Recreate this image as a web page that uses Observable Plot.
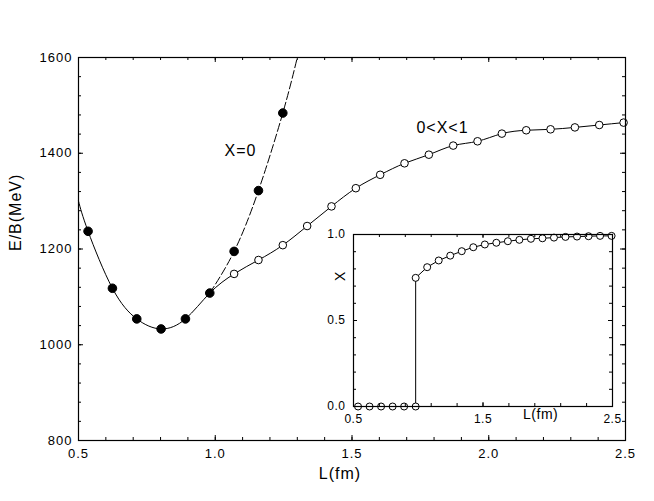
<!DOCTYPE html>
<html><head><meta charset="utf-8">
<script src="https://cdn.jsdelivr.net/npm/d3@7"></script>
<script src="https://cdn.jsdelivr.net/npm/@observablehq/plot@0.6"></script>
<style>
html,body{margin:0;padding:0;background:#fff;}
#wrap{position:relative;width:654px;height:501px;}
#wrap svg{position:absolute;left:0;top:0;}
</style></head><body><div id="wrap"></div>
<script>
// ---- data ----
const L_pts = [0.535, 0.624, 0.713, 0.802, 0.891, 0.98, 1.069, 1.158, 1.247, 1.336, 1.425, 1.514, 1.603, 1.692, 1.781, 1.87, 1.959, 2.048, 2.137, 2.226, 2.315, 2.404, 2.493];
const E_X0 = [1237, 1118, 1054, 1033, 1054, 1108, 1195, 1322, 1484];           // filled, X=0 (first 9 L)
const E_MIX = [1148, 1177, 1208, 1248, 1289, 1327, 1355, 1379, 1397, 1416, 1425, 1441, 1448, 1450, 1454, 1459, 1464]; // open, L from 1.069
const X_frac = [0, 0, 0, 0, 0, 0, 0.748, 0.81, 0.849, 0.877, 0.903, 0.926, 0.942, 0.952, 0.961, 0.969, 0.975, 0.978, 0.982, 0.986, 0.988, 0.99, 0.992, 0.992]; // inset
const L_inset = [0.535, 0.624, 0.713, 0.802, 0.891, 0.98, 0.98, 1.069, 1.158, 1.247, 1.336, 1.425, 1.514, 1.603, 1.692, 1.781, 1.87, 1.959, 2.048, 2.137, 2.226, 2.315, 2.404, 2.493];
const solidStart = {L: 0.5, E: 1300};
const dashEnd = {L: 1.30, E: 1600};
const mainXTicks = [0.5, 1.0, 1.5, 2.0, 2.5];
const mainYTicks = [800, 1000, 1200, 1400, 1600];
const insetXTicks = [0.5, 1.5, 2.5];
const insetYTicks = [0.0, 0.5, 1.0];

// ---- derived tables ----
const filled = E_X0.map((E, i) => ({L: L_pts[i], E}));
const open = E_MIX.map((E, i) => ({L: L_pts[i + 6], E}));
const solid = [solidStart, ...filled.slice(0, 6), ...open];
const dashed = [...filled.slice(5), dashEnd];
const inset = X_frac.map((X, i) => ({L: L_inset[i], X}));

const mainXMinor = d3.range(0.5, 2.5001, 0.1).map(v => +v.toFixed(2));
const mainYMinor = d3.range(800, 1600.1, 40);
const insetXMinor = d3.range(0.5, 2.5001, 0.2).map(v => +v.toFixed(2));
const insetYMinor = d3.range(0, 1.0001, 0.1).map(v => +v.toFixed(2));

const FONT = "'Liberation Sans', Arial, sans-serif";
const fmt1 = d => d.toFixed(1);

// inward ticks on all four sides, drawn as short rules trimmed by insets
function tickSet(xMajor, xMinor, yMajor, yMinor, maj, min, iw, ih) {
  const m = [];
  for (const [xs, len] of [[xMinor, min], [xMajor, maj]]) {
    m.push(Plot.ruleX(xs, {x: d => d, insetTop: ih - len, stroke: "#000", strokeWidth: 1}));
    m.push(Plot.ruleX(xs, {x: d => d, insetBottom: ih - len, stroke: "#000", strokeWidth: 1}));
  }
  for (const [ys, len] of [[yMinor, min], [yMajor, maj]]) {
    m.push(Plot.ruleY(ys, {y: d => d, insetRight: iw - len, stroke: "#000", strokeWidth: 1}));
    m.push(Plot.ruleY(ys, {y: d => d, insetLeft: iw - len, stroke: "#000", strokeWidth: 1}));
  }
  return m;
}

const W = 654, H = 501, ML = 78, MR = 29, MT = 57, MB = 61;
const main = Plot.plot({
  width: W, height: H,
  marginLeft: ML, marginRight: MR, marginTop: MT, marginBottom: MB,
  style: {fontFamily: FONT, fontSize: "13px", background: "transparent", color: "#000", letterSpacing: "1px"},
  x: {domain: [0.5, 2.5]},
  y: {domain: [800, 1600]},
  marks: [
    Plot.line(solid, {x: "L", y: "E", curve: "natural", stroke: "#000", strokeWidth: 1}),
    Plot.line(dashed, {x: "L", y: "E", curve: "natural", stroke: "#000", strokeWidth: 1, strokeDasharray: "8,3", clip: true}),
    Plot.dot(open, {x: "L", y: "E", r: 3.8, fill: "#fff", stroke: "#000", strokeWidth: 1}),
    Plot.dot(filled, {x: "L", y: "E", r: 4.3, fill: "#000", stroke: "#000", strokeWidth: 1}),
    ...tickSet(mainXTicks, mainXMinor, mainYTicks, mainYMinor, 5, 3, W - ML - MR, H - MT - MB),
    Plot.axisX(mainXTicks, {anchor: "bottom", tickSize: 0, tickPadding: 8, tickFormat: fmt1, label: null}),
    Plot.axisY(mainYTicks, {anchor: "left", tickSize: 0, tickPadding: 6, tickFormat: d => String(d), label: null}),
    Plot.frame({stroke: "#000", strokeWidth: 1.2}),
    Plot.text(["L(fm)"], {frameAnchor: "bottom", text: d => d, dy: 38, dx: -12, fontSize: 16}),
    Plot.text(["E/B(MeV)"], {frameAnchor: "left", text: d => d, dx: -63, dy: 2, rotate: -90, fontSize: 16}),
    Plot.text(["X=0"], {x: () => 1.092, y: () => 1406, text: d => d, fontSize: 16}),
    Plot.text(["0<X<1"], {x: () => 1.831, y: () => 1454, text: d => d, fontSize: 16})
  ]
});

const IW = 314, IH = 202, IL = 40, IR = 15, IT = 10, IB = 20;
const insetPlot = Plot.plot({
  width: IW, height: IH,
  marginLeft: IL, marginRight: IR, marginTop: IT, marginBottom: IB,
  style: {fontFamily: FONT, fontSize: "12px", background: "transparent", color: "#000", letterSpacing: "0.5px"},
  x: {domain: [0.5, 2.5]},
  y: {domain: [0, 1]},
  marks: [
    Plot.line(inset, {x: "L", y: "X", stroke: "#000", strokeWidth: 1}),
    Plot.dot(inset, {x: "L", y: "X", r: 3.5, fill: "#fff", stroke: "#000", strokeWidth: 1}),
    ...tickSet(insetXTicks, insetXMinor, insetYTicks, insetYMinor, 4, 3, IW - IL - IR, IH - IT - IB),
    Plot.axisX(insetXTicks, {anchor: "bottom", tickSize: 0, tickPadding: 8, tickFormat: fmt1, label: null}),
    Plot.axisY(insetYTicks, {anchor: "left", tickSize: 0, tickPadding: 8, tickFormat: fmt1, label: null}),
    Plot.frame({stroke: "#000", strokeWidth: 1.2}),
    Plot.text(["L(fm)"], {x: () => 1.945, frameAnchor: "bottom", text: d => d, dy: 12, fontSize: 14}),
    Plot.text(["X"], {y: () => 0.73, frameAnchor: "left", text: d => d, dx: -13, rotate: -90, fontSize: 14})
  ]
});

const wrap = document.getElementById("wrap");
wrap.appendChild(main);
insetPlot.style.left = "313px";
insetPlot.style.top = "224px";
wrap.appendChild(insetPlot);
</script></body></html>
